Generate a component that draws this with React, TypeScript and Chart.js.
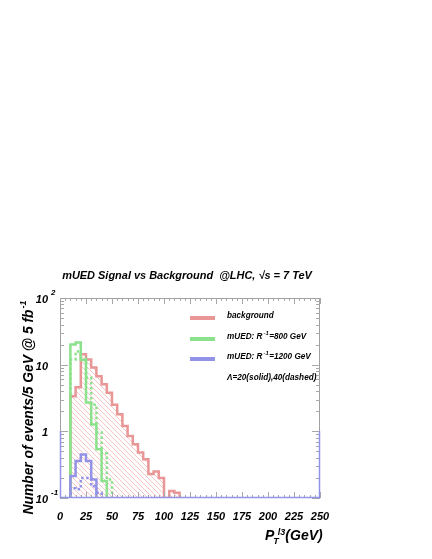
import React, { useEffect, useRef } from "react";
import { Chart, registerables } from "chart.js";

Chart.register(...registerables);

// ---------- data ----------
const binEdges = [0, 5, 10, 15, 20, 25, 30, 35, 40, 45, 50, 55, 60, 65, 70, 75, 80, 85, 90, 95, 100, 105, 110, 115, 120];
// events per 5 GeV bin (bins 0-5 ... 115-120)
const background = [0, 0, 3.35, 4.6, 14.3, 12.0, 9.1, 6.7, 5.1, 3.8, 2.5, 1.8, 1.2, 0.85, 0.64, 0.48, 0.38, 0.23, 0.25, 0.2, 0.1, 0.127, 0.12, 0];
const green800Solid = [0, 0, 20, 21.5, 11.7, 2.7, 1.27, 0.54, 0.18, 0, 0, 0, 0, 0, 0, 0, 0, 0, 0, 0, 0, 0, 0, 0];
const green800Dashed = [0, 0, 12, 15.8, 12.3, 6.4, 2.5, 0.97, 0.47, 0.19, 0, 0, 0, 0, 0, 0, 0, 0, 0, 0, 0, 0, 0, 0];
const blue1200Solid = [0, 0, 0.214, 0.36, 0.45, 0.36, 0.19, 0, 0, 0, 0, 0, 0, 0, 0, 0, 0, 0, 0, 0, 0, 0, 0, 0];
const blue1200Dashed = [0, 0, 0.14, 0.135, 0.2, 0.2, 0.15, 0.12, 0, 0, 0, 0, 0, 0, 0, 0, 0, 0, 0, 0, 0, 0, 0, 0];

const xTickLabels = [0, 25, 50, 75, 100, 125, 150, 175, 200, 225, 250];
const yTickValues = [0.1, 1, 10, 100];
const yTickBase = ["10", "1", "10", "10"];
const yTickSup = ["-1", "", "", "2"];

const titleText = "mUED Signal vs Background  @LHC, \u221As = 7 TeV";
const yTitleMain = "Number of events/5 GeV @ 5 fb";
const yTitleSup = "-1";
const legendRows = [
  { pre: "background", sup: "", post: "" },
  { pre: "mUED: R", sup: "-1", post: "=800 GeV" },
  { pre: "mUED: R", sup: "-1", post: "=1200 GeV" },
];
const lambdaNote = "\u039B=20(solid),40(dashed)";

// ---------- style ----------
const RED = "rgb(232,150,150)";
const GREEN = "rgb(140,226,140)";
const BLUE = "rgb(146,146,230)";
const FONT = '"Liberation Sans", Arial, Helvetica, sans-serif';
const bi = (px: number) => `italic bold ${px}px ${FONT}`;
const FLOOR = 0.01;

function toSteps(values: number[]) {
  // point at each lower bin edge carries that bin's content ("before" stepping draws
  // the horizontal at the previous value first, then the vertical)
  const pts = values.map((v, i) => ({ x: binEdges[i], y: v > 0 ? v : FLOOR }));
  pts.push({ x: binEdges[binEdges.length - 1], y: FLOOR });
  return pts;
}

function makeHatch(color: string) {
  const s = 5;
  const c = document.createElement("canvas");
  c.width = s;
  c.height = s;
  const g = c.getContext("2d")!;
  g.strokeStyle = color;
  g.lineWidth = 1;
  g.beginPath();
  g.moveTo(0, 0);
  g.lineTo(s, s);
  g.moveTo(-1, s - 1);
  g.lineTo(1, s + 1);
  g.moveTo(s - 1, -1);
  g.lineTo(s + 1, 1);
  g.stroke();
  return g.createPattern(c, "repeat")!;
}

function drawSupText(ctx: CanvasRenderingContext2D, x: number, y: number, pre: string, sup: string, post: string, size: number, supSize: number, rise: number) {
  ctx.textAlign = "left";
  ctx.font = bi(size);
  ctx.fillText(pre, x, y);
  let cx = x + ctx.measureText(pre).width;
  if (sup) {
    ctx.font = bi(supSize);
    ctx.fillText(sup, cx + 1, y - rise);
    cx += ctx.measureText(sup).width + 1.5;
  }
  if (post) {
    ctx.font = bi(size);
    ctx.fillText(post, cx, y);
  }
}

const decorPlugin = {
  id: "rootDecor",
  afterDraw(chart: any) {
    const { ctx, chartArea: a } = chart;
    const xs = chart.scales.x;
    const ys = chart.scales.y;
    ctx.save();

    // frame
    ctx.strokeStyle = "#a0a0a0";
    ctx.lineWidth = 1;
    ctx.strokeRect(a.left + 0.5, a.top + 0.5, a.right - a.left - 1, a.bottom - a.top - 1);

    // x ticks (inside, bottom and top)
    ctx.strokeStyle = "#a8a8a8";
    ctx.beginPath();
    for (let v = 0; v <= 250; v += 5) {
      const px = Math.round(xs.getPixelForValue(v)) + 0.5;
      const len = v % 25 === 0 ? 6 : 3;
      ctx.moveTo(px, a.bottom);
      ctx.lineTo(px, a.bottom - len);
      ctx.moveTo(px, a.top);
      ctx.lineTo(px, a.top + len);
    }
    // y ticks (log), left and right
    for (const d of [0.1, 1, 10]) {
      for (let m = 1; m <= 9; m++) {
        const py = Math.round(ys.getPixelForValue(m * d)) + 0.5;
        const len = m === 1 ? 8 : 4;
        ctx.moveTo(a.left, py);
        ctx.lineTo(a.left + len, py);
        ctx.moveTo(a.right, py);
        ctx.lineTo(a.right - len, py);
      }
    }
    ctx.stroke();

    // lower frame segment overdrawn in blue (as in reference)
    ctx.strokeStyle = BLUE;
    ctx.lineWidth = 1.5;
    ctx.beginPath();
    const y1 = ys.getPixelForValue(1);
    ctx.moveTo(a.left + 0.5, y1);
    ctx.lineTo(a.left + 0.5, a.bottom - 0.5);
    ctx.lineTo(a.right - 0.5, a.bottom - 0.5);
    ctx.lineTo(a.right - 0.5, y1);
    ctx.stroke();

    ctx.fillStyle = "#000";
    ctx.textBaseline = "alphabetic";

    // x tick labels
    ctx.font = bi(11);
    ctx.textAlign = "center";
    xTickLabels.forEach((v) => {
      ctx.fillText(String(v), xs.getPixelForValue(v), a.bottom + 22);
    });

    // y tick labels
    yTickValues.forEach((v, i) => {
      const py = ys.getPixelForValue(v);
      ctx.font = bi(11);
      ctx.textAlign = "right";
      ctx.fillText(yTickBase[i], a.left - 12, py + 5);
      if (yTickSup[i]) {
        ctx.font = bi(8);
        ctx.textAlign = "left";
        ctx.fillText(yTickSup[i], a.left - 9, py - 3);
      }
    });

    // title (fit to reference width)
    ctx.font = bi(12);
    const tw = ctx.measureText(titleText).width;
    const tSize = 12 * 250 / tw;
    ctx.font = bi(tSize);
    ctx.textAlign = "center";
    ctx.fillText(titleText, 187, 279);

    // y axis title
    ctx.save();
    ctx.translate(33, 407);
    ctx.rotate(-Math.PI / 2);
    ctx.font = bi(14);
    const w1 = ctx.measureText(yTitleMain).width;
    ctx.font = bi(9);
    const w2 = ctx.measureText(yTitleSup).width;
    const scale = 215 / (w1 + w2 + 2);
    const ms = 14 * scale;
    const ss = 9 * scale;
    ctx.font = bi(ms);
    const m1 = ctx.measureText(yTitleMain).width;
    ctx.font = bi(ss);
    const m2 = ctx.measureText(yTitleSup).width;
    drawSupText(ctx, -(m1 + m2 + 2) / 2, 0, yTitleMain, yTitleSup, "", ms, ss, 7);
    ctx.restore();

    // x axis title P_T^{l3}(GeV)
    ctx.textAlign = "left";
    ctx.font = bi(14);
    const px0 = 265;
    const pb = 540;
    ctx.fillText("P", px0, pb);
    const pw = ctx.measureText("P").width;
    ctx.font = bi(9);
    ctx.fillText("T", px0 + pw - 1, pb + 4);
    const tW = ctx.measureText("T").width;
    ctx.fillText("l3", px0 + pw + tW - 2, pb - 5);
    const l3w = ctx.measureText("l3").width;
    ctx.font = bi(14);
    ctx.fillText("(GeV)", px0 + pw + tW + l3w - 2, pb);

    // legend
    const sx0 = a.left + 130;
    const sx1 = a.left + 155;
    const tx = a.left + 167;
    const rowY = [a.top + 20, a.top + 41, a.top + 61];
    const rowC = [RED, GREEN, BLUE];
    rowY.forEach((ry, i) => {
      ctx.strokeStyle = rowC[i];
      ctx.lineWidth = 4;
      ctx.beginPath();
      ctx.moveTo(sx0, ry);
      ctx.lineTo(sx1, ry);
      ctx.stroke();
      ctx.fillStyle = "#000";
      drawSupText(ctx, tx, ry, legendRows[i].pre, legendRows[i].sup, legendRows[i].post, 8.2, 5.8, 4);
    });
    ctx.font = bi(8.2);
    ctx.textAlign = "left";
    ctx.fillText(lambdaNote, tx, a.top + 82);

    ctx.restore();
  },
};

export default function App() {
  const ref = useRef<HTMLCanvasElement | null>(null);

  useEffect(() => {
    const canvas = ref.current!;
    const hatch = makeHatch("rgba(236,150,150,0.55)");
    const lineBase = { stepped: "before" as const, pointRadius: 0, borderWidth: 2.5, tension: 0 };
    const chart = new Chart(canvas, {
      type: "line",
      data: {
        datasets: [
          { ...lineBase, label: "blue dashed", data: toSteps(blue1200Dashed), borderColor: BLUE, borderDash: [2.5, 2.5], fill: false },
          { ...lineBase, label: "blue solid", data: toSteps(blue1200Solid), borderColor: BLUE, fill: false },
          { ...lineBase, label: "green dashed", data: toSteps(green800Dashed), borderColor: GREEN, borderDash: [2.5, 2.5], fill: false },
          { ...lineBase, label: "green solid", data: toSteps(green800Solid), borderColor: GREEN, fill: false },
          { ...lineBase, label: "background", data: toSteps(background), borderColor: RED, backgroundColor: hatch, fill: "start" },
        ],
      },
      options: {
        responsive: false,
        animation: false,
        layout: { padding: { left: 60, right: 112, top: 298, bottom: 61 } },
        plugins: { legend: { display: false }, tooltip: { enabled: false }, title: { display: false } },
        scales: {
          x: { type: "linear", min: 0, max: 250, display: false },
          y: { type: "logarithmic", min: 0.1, max: 100, display: false },
        },
      },
      plugins: [decorPlugin],
    });
    return () => chart.destroy();
  }, []);

  return (
    <div style={{ position: "absolute", left: 0, top: 0, width: 432, height: 559, background: "#fff" }}>
      <canvas ref={ref} width={432} height={559} style={{ display: "block", width: 432, height: 559 }} />
    </div>
  );
}
